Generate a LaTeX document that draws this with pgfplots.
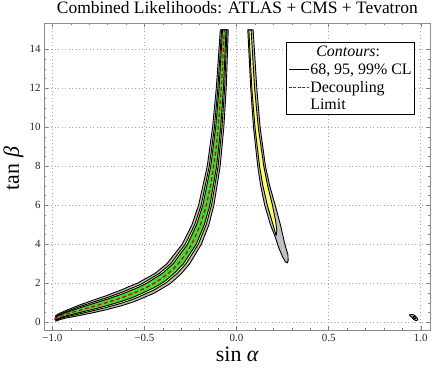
\documentclass[border=0pt]{standalone}
\usepackage{fontspec}
\setmainfont{Liberation Serif}
\usepackage{pgfplots}
\pgfplotsset{compat=1.18}
\definecolor{bandgray}{RGB}{192,192,192}
\definecolor{bandyellow}{RGB}{255,255,102}
\definecolor{bandgreen}{RGB}{60,220,60}
\definecolor{declim}{RGB}{215,0,0}
\begin{document}
\begin{tikzpicture}
\path[use as bounding box] (-44bp,-44bp) rectangle (392bp,330bp);
\begin{axis}[
  scale only axis, width=386bp, height=307bp,
  xmin=-1.045, xmax=1.05, ymin=-0.4, ymax=15.35,
  xtick={-1,-0.5,0,0.5,1}, xticklabels={−1.0,−0.5,0.0,0.5,1.0},
  ytick={0,2,...,14},
  minor x tick num=4, minor y tick num=3,
  tick align=inside, tick pos=both,
  major tick length=4bp, minor tick length=2bp,
  every tick/.style={black!50},
  axis line style={black!45},
  grid=major, grid style={black!35, dash pattern=on 1bp off 2.5bp, line width=0.6bp},
  tick label style={font=\fontsize{11}{13}\selectfont, black!85},
  xticklabel style={yshift=-1bp},
  /pgf/number format/assume math mode=true,
  title={Combined Likelihoods: ATLAS + CMS + Tevatron},
  title style={at={(axis description cs:0.501,1.013)}, anchor=base, font=\fontsize{17.5}{20}\selectfont},
  xlabel={sin \textit{α}}, ylabel={tan \textit{β}},
  xlabel style={at={(axis description cs:0.501,-0.079)}, anchor=center, font=\fontsize{22}{25}\selectfont},
  ylabel style={at={(axis description cs:-0.079,0.526)}, anchor=center, font=\fontsize{22}{25}\selectfont},
  no markers,
  legend cell align=left,
  legend style={at={(0.627,0.938)}, anchor=north west, draw=black, line width=0.8bp,
    font=\fontsize{16}{18}\selectfont, inner xsep=1.5bp, inner ysep=2.5bp, row sep=3.5bp,
    nodes={inner sep=1bp}},
  legend image code/.code={\draw[#1] (0bp,0bp) -- (20bp,0bp);},
  band/.style={draw=black, line width=0.9bp, line join=round, forget plot},
]
% 99% CL
\addplot[band, fill=bandgray] coordinates {
 (0.061,15) (0.077,12) (0.092,10) (0.115,8) (0.131,7) (0.153,6) (0.184,5) (0.209,4.4)
 (0.230,3.8) (0.250,3.35) (0.265,3.1) (0.275,3.04) (0.280,3.15) (0.279,3.45) (0.261,4.05)
 (0.238,5) (0.21,6) (0.18,7) (0.157,8) (0.128,10) (0.11,12) (0.09,15)} -- cycle;
\addplot[band, fill=bandgray] coordinates {
 (-0.981,0.347) (-0.958,0.466) (-0.928,0.589) (-0.857,0.866) (-0.781,1.119) (-0.707,1.359)
 (-0.625,1.657) (-0.555,1.943) (-0.538,2.0) (-0.443,2.5) (-0.378,3) (-0.295,4) (-0.242,5)
 (-0.206,6) (-0.159,8) (-0.130,10) (-0.110,12) (-0.088,15)
 (-0.045,15) (-0.056,12) (-0.069,10) (-0.089,8) (-0.123,6) (-0.150,5) (-0.191,4) (-0.254,3)
 (-0.299,2.5) (-0.357,2) (-0.40,1.754) (-0.45,1.478) (-0.555,1.057) (-0.625,0.843)
 (-0.707,0.641) (-0.781,0.481) (-0.857,0.334) (-0.928,0.211) (-0.958,0.134) (-0.981,0.053)} -- cycle;
\addplot[band, fill=bandgray] coordinates {
 (0.937,0.37) (0.952,0.40) (0.966,0.36) (0.978,0.24) (0.985,0.12) (0.976,0.08) (0.963,0.13) (0.948,0.28)} -- cycle;
% 95% CL
\addplot[band, fill=bandyellow] coordinates {
 (0.067,15) (0.083,12) (0.1,10) (0.125,8) (0.143,7) (0.167,6) (0.192,5.2) (0.210,4.6) (0.215,4.45)
 (0.219,4.7) (0.212,5.2) (0.195,6) (0.169,7) (0.148,8) (0.118,10) (0.098,12) (0.079,15)} -- cycle;
\addplot[band, fill=bandyellow] coordinates {
 (-0.981,0.300) (-0.958,0.413) (-0.928,0.529) (-0.857,0.781) (-0.781,1.017) (-0.707,1.244)
 (-0.625,1.527) (-0.555,1.801) (-0.530,1.90) (-0.5085,2) (-0.420,2.5) (-0.358,3) (-0.2784,4)
 (-0.2271,5) (-0.1922,6) (-0.148,8) (-0.1201,10) (-0.1013,12) (-0.0811,15)
 (-0.0519,15) (-0.0647,12) (-0.0789,10) (-0.100,8) (-0.1358,6) (-0.1649,5) (-0.2076,4)
 (-0.274,3) (-0.3219,2.5) (-0.3855,2) (-0.40,1.926) (-0.45,1.640) (-0.555,1.199) (-0.625,0.973)
 (-0.707,0.756) (-0.781,0.583) (-0.857,0.419) (-0.928,0.271) (-0.958,0.187) (-0.981,0.100)} -- cycle;
\addplot[band, fill=bandyellow] coordinates {
 (0.958,0.30) (0.966,0.30) (0.973,0.20) (0.968,0.16) (0.96,0.22)} -- cycle;
% 68% CL
\addplot[band, fill=bandgreen] coordinates {
 (-0.981,0.266) (-0.958,0.376) (-0.928,0.485) (-0.857,0.719) (-0.781,0.943) (-0.707,1.162)
 (-0.625,1.434) (-0.555,1.700) (-0.53,1.80) (-0.488,2) (-0.403,2.5) (-0.344,3) (-0.266,4)
 (-0.217,5) (-0.183,6) (-0.140,8) (-0.113,10) (-0.095,12) (-0.0762,15)
 (-0.0568,15) (-0.071,12) (-0.0859,10) (-0.108,8) (-0.145,6) (-0.175,5) (-0.219,4)
 (-0.288,3) (-0.339,2.5) (-0.39,2.1) (-0.406,2) (-0.45,1.757) (-0.555,1.299) (-0.625,1.066)
 (-0.707,0.838) (-0.781,0.657) (-0.857,0.481) (-0.928,0.315) (-0.958,0.224) (-0.981,0.134)} -- cycle;
% decoupling limit
\addplot[declim, line width=1.3bp, dash pattern=on 4bp off 2.5bp, forget plot] coordinates {
 (-0.989,0.15) (-0.981,0.2) (-0.958,0.3) (-0.928,0.4) (-0.894,0.5) (-0.857,0.6) (-0.819,0.7)
 (-0.781,0.8) (-0.743,0.9) (-0.707,1) (-0.673,1.1) (-0.625,1.25) (-0.555,1.5) (-0.496,1.75)
 (-0.447,2) (-0.406,2.25) (-0.371,2.5) (-0.342,2.75) (-0.316,3) (-0.275,3.5) (-0.243,4)
 (-0.196,5) (-0.164,6) (-0.141,7) (-0.124,8) (-0.110,9) (-0.0995,10) (-0.083,12)
 (-0.0767,13) (-0.0665,15)};
\addlegendimage{empty legend}
\addlegendentry{\hspace*{6bp}\textit{Contours}:}
\addlegendimage{draw=black, line width=1.4bp}
\addlegendentry{68, 95, 99\% CL}
\addlegendimage{draw=declim, line width=1.4bp, dash pattern=on 3bp off 1.5bp}
\addlegendentry{Decoupling}
\addlegendimage{empty legend}
\addlegendentry{Limit}
\end{axis}
\end{tikzpicture}
\end{document}
